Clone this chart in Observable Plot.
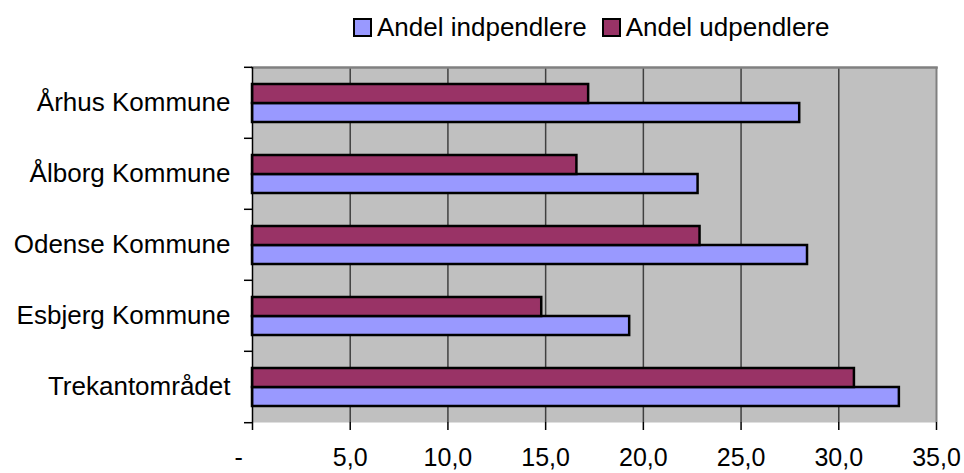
<!DOCTYPE html>
<html>
<head>
<meta charset="utf-8">
<script src="https://cdn.jsdelivr.net/npm/d3@7"></script>
<script src="https://cdn.jsdelivr.net/npm/@observablehq/plot@0.6"></script>
<style>
  html, body { margin: 0; padding: 0; background: #fff; overflow: hidden; }
  #legend { height: 48px; box-sizing: border-box; padding: 7px 0 0 353px; display: flex; align-items: center;
    font-family: "Liberation Sans", Arial, sans-serif; font-size: 26px; color: #000; }
  #legend .sw { width: 19px; height: 19px; box-sizing: border-box; border: 2.5px solid #000; margin-right: 5px; }
  #legend .lab { margin-right: 15px; white-space: nowrap; }
  #chart svg { display: block; }
</style>
</head>
<body>
<div id="legend"></div>
<div id="chart"></div>
<script>
const categories = ["Århus Kommune", "Ålborg Kommune", "Odense Kommune", "Esbjerg Kommune", "Trekantområdet"];
const series = ["Andel indpendlere", "Andel udpendlere"];
const indpendlere = [28.0, 22.8, 28.4, 19.3, 33.1];
const udpendlere = [17.2, 16.6, 22.9, 14.8, 30.8];
const xTicks = [0, 5, 10, 15, 20, 25, 30, 35];
const colors = ["#9999FF", "#993366"];

const data = categories.flatMap((c, i) => [
  {category: c, series: series[0], value: indpendlere[i]},
  {category: c, series: series[1], value: udpendlere[i]}
]);

// legend
const legend = document.getElementById("legend");
series.forEach((s, i) => {
  const sw = document.createElement("span");
  sw.className = "sw";
  sw.style.background = colors[i];
  const lab = document.createElement("span");
  lab.className = "lab";
  lab.textContent = s;
  legend.appendChild(sw);
  legend.appendChild(lab);
});

const W = 964, H = 425, mt = 18, mb = 50, ml = 252, mr = 28;
const facetH = (H - mt - mb) / categories.length;
const fmt = d => d === 0 ? "-\u00a0\u00a0\u00a0\u00a0" : d.toFixed(1).replace(".", ",");

const chart = Plot.plot({
  width: W, height: H,
  marginTop: mt, marginBottom: mb, marginLeft: ml, marginRight: mr,
  style: {fontFamily: "'Liberation Sans', Arial, sans-serif", fontSize: "26px", color: "#000", background: "#fff", overflow: "visible"},
  x: {domain: [0, 35]},
  y: {domain: [series[1], series[0]], paddingInner: 0, paddingOuter: 0.7875, axis: null},
  fy: {domain: categories, padding: 0},
  color: {domain: series, range: colors},
  marks: [
    Plot.frame({facet: "super", fill: "#C0C0C0", stroke: "none"}),
    Plot.ruleX(xTicks.slice(1, -1), {stroke: "#404040", strokeWidth: 1.5}),
    Plot.ruleX([35], {stroke: "#808080", strokeWidth: 2}),
    Plot.frame({facet: "super", anchor: "top", stroke: "#808080", strokeWidth: 2.5}),
    Plot.barX(data, {fy: "category", y: "series", x: "value", fill: "series", stroke: "#000", strokeWidth: 2.5}),
    Plot.ruleX([0], {stroke: "#000", strokeWidth: 1.5}),
    Plot.axisX({ticks: xTicks, tickSize: 8, tickPadding: 18, tickFormat: fmt, label: null, line: true, stroke: "#000", strokeWidth: 1.5, fontSize: 25}),
    Plot.axisFy({anchor: "left", tickSize: 0, tickPadding: 22, label: null}),
    Plot.axisFy({anchor: "left", tickSize: 8, tickFormat: () => "", label: null, dy: -facetH / 2, stroke: "#000", strokeWidth: 1.5}),
    Plot.axisFy({anchor: "left", ticks: [categories[categories.length - 1]], tickSize: 8, tickFormat: () => "", label: null, dy: facetH / 2, stroke: "#000", strokeWidth: 1.5})
  ]
});
document.getElementById("chart").appendChild(chart);
</script>
</body>
</html>
